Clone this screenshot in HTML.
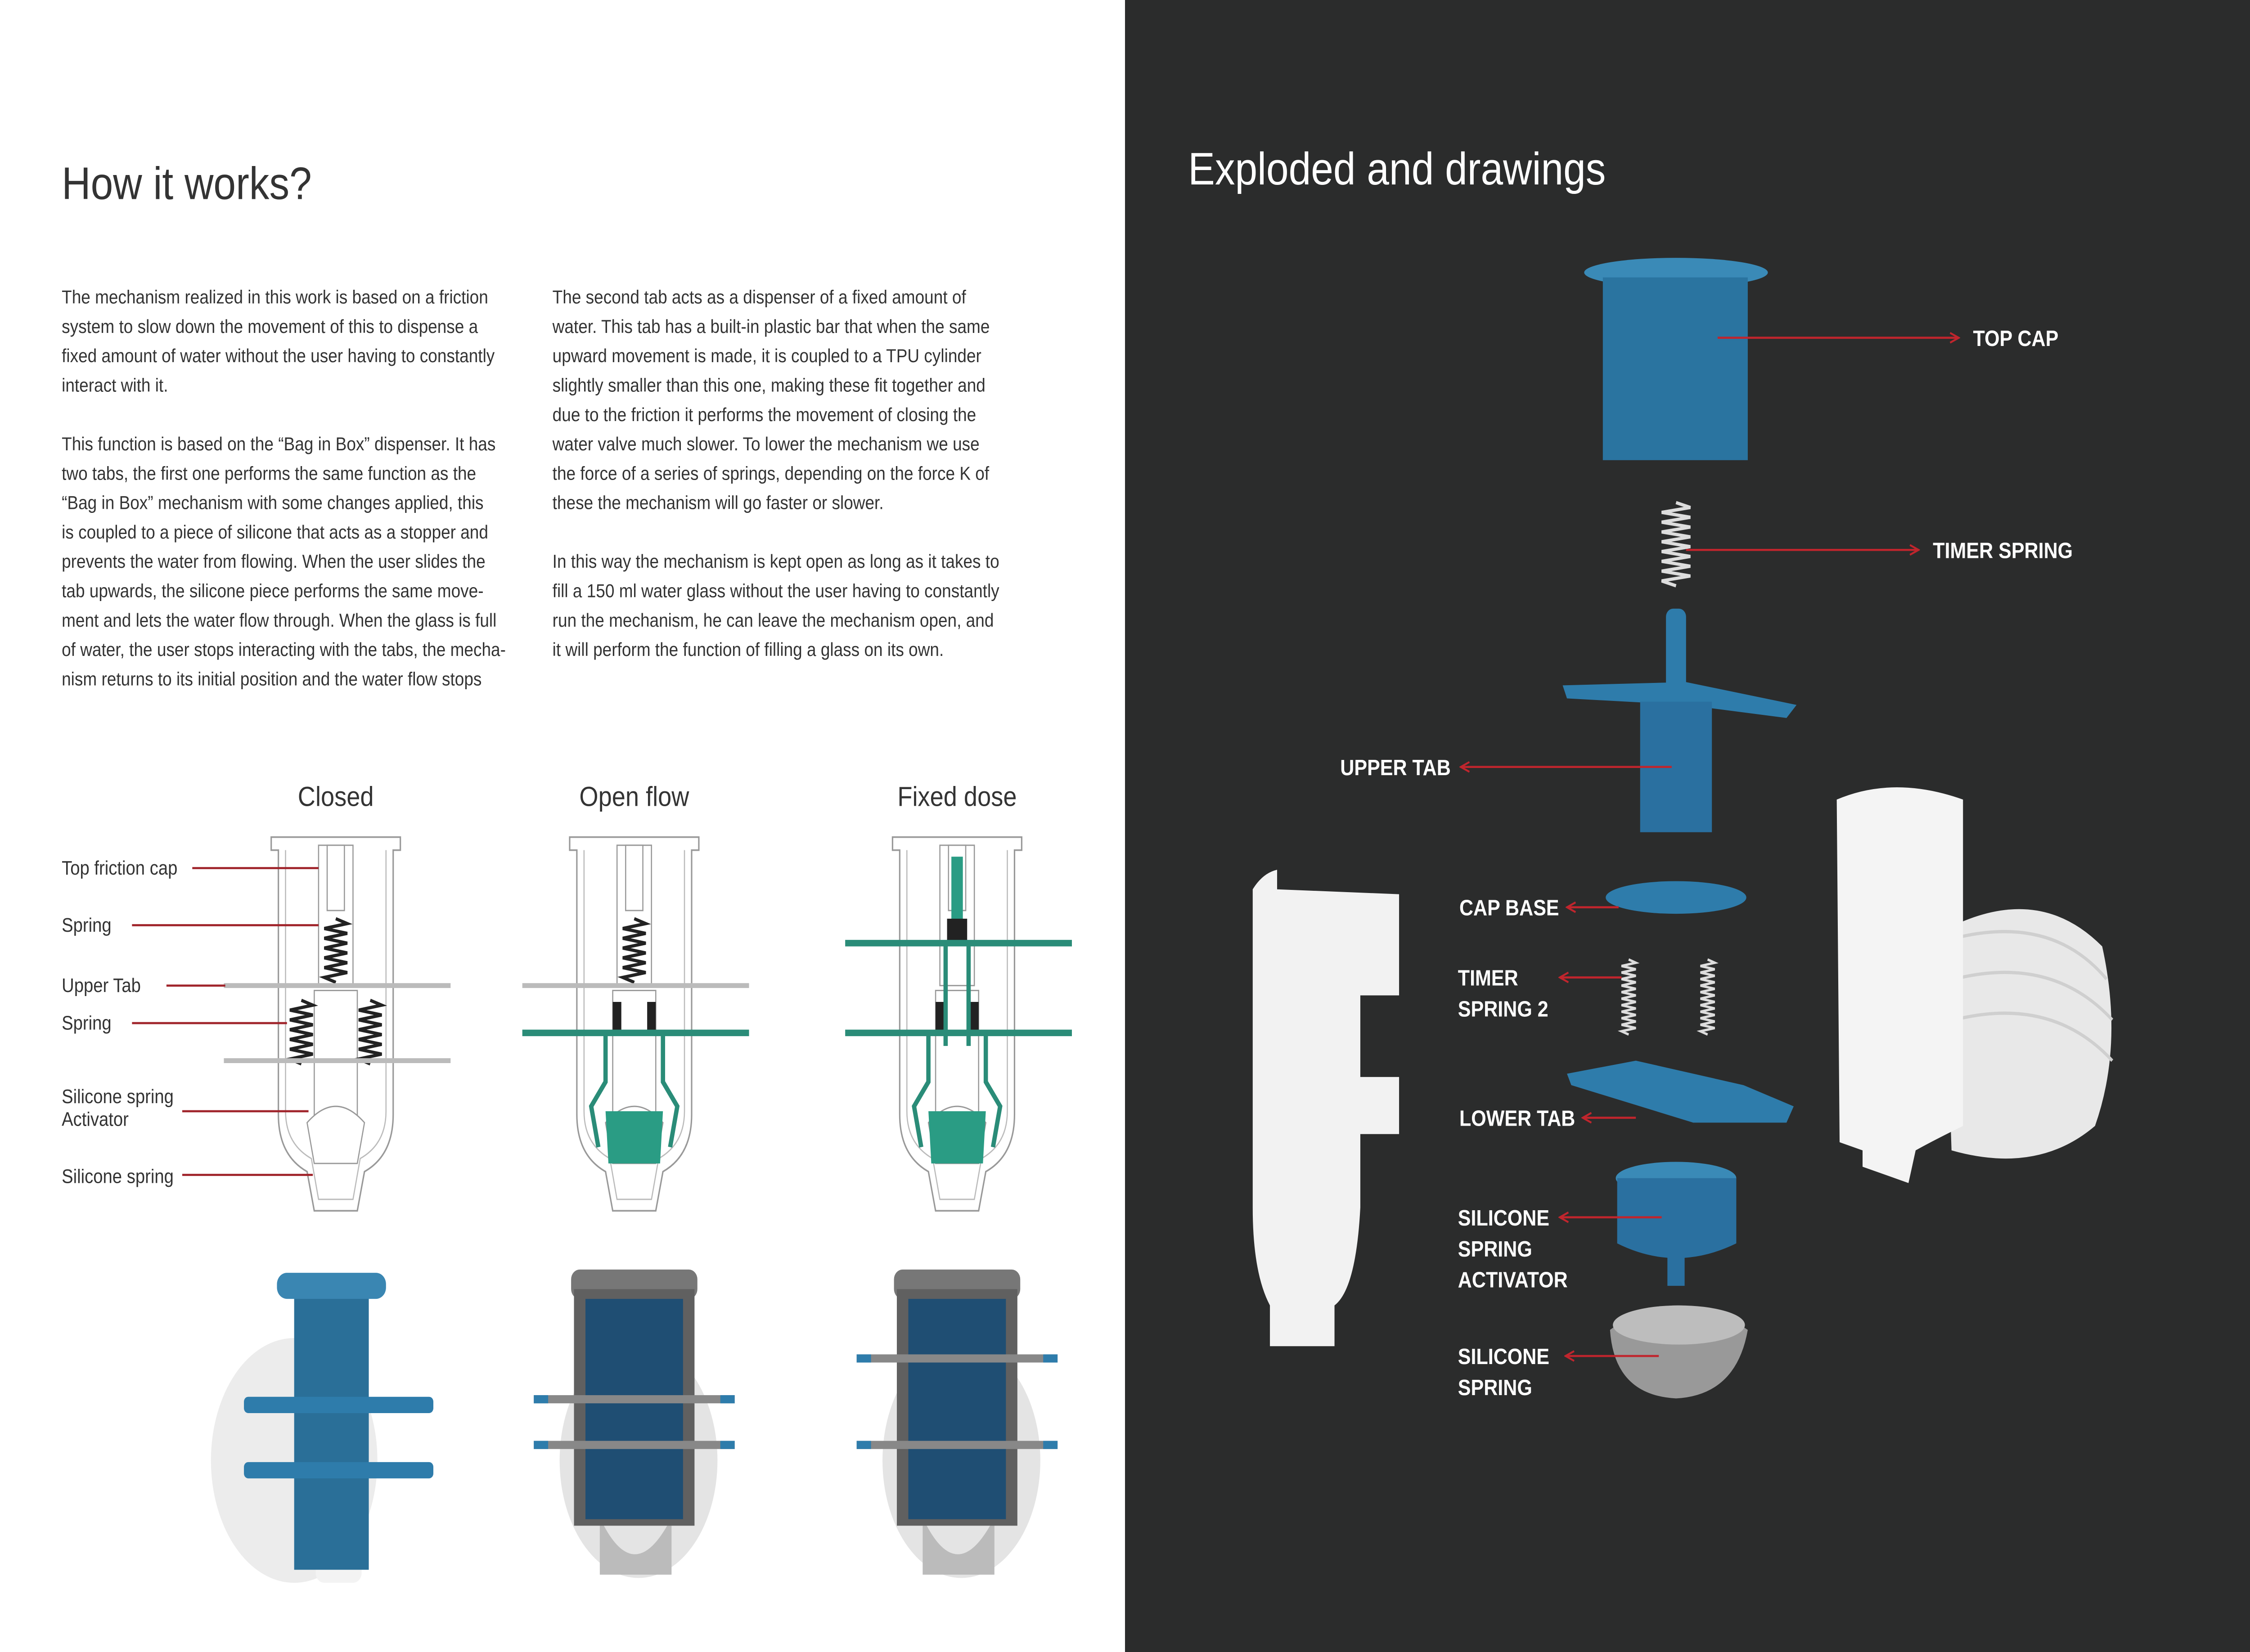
<!DOCTYPE html>
<html><head><meta charset="utf-8"><style>
html,body{margin:0;padding:0;background:#2b2c2c;width:100%;height:100%;overflow:hidden}
svg{display:block;position:fixed;left:0;top:0;width:100vw;height:100vh}
.t{font-family:"Liberation Sans",sans-serif}
</style></head><body>
<svg viewBox="0 0 1568 1012.4" preserveAspectRatio="none" xmlns="http://www.w3.org/2000/svg">
<defs>
<marker id="ar" markerWidth="8" markerHeight="8" refX="7" refY="4" orient="auto" markerUnits="userSpaceOnUse"><path d="M1,1 L7,4 L1,7" fill="none" stroke="#c0252d" stroke-width="1.2"/></marker>
<g id="sch">
  <path d="M-45,18 L-45,10 L45,10 L45,18 L40,18 L40,180 Q40,205 20,215 L15,239 L-15,239 L-20,215 Q-40,205 -40,180 L-40,18 Z" fill="#fff" stroke="#999" stroke-width="1"/>
  <path d="M-35,18 L-35,178 Q-35,198 -17,207 L-12,232 L12,232 L17,207 Q35,198 35,178 L35,18" fill="none" stroke="#bbb" stroke-width="0.8"/>
  <rect x="-12" y="15" width="24" height="86" fill="#fff" stroke="#999" stroke-width="0.8"/>
  <rect x="-6" y="15" width="12" height="40" fill="#fff" stroke="#999" stroke-width="0.8"/>
  <rect x="-15" y="104" width="30" height="80" fill="#fff" stroke="#999" stroke-width="0.8"/>
  <path d="M-20,185 Q0,165 20,185 L15,210 L-15,210 Z" fill="#fff" stroke="#999" stroke-width="0.8"/>
</g>
<path id="spr" d="M0,0 l8,3 l-16,3 l16,3 l-16,3 l16,3 l-16,3 l16,3 l-16,3 l16,3 l-16,3 l16,3 l-16,3 l8,3" fill="none" stroke="#222" stroke-width="2"/>
</defs>
<rect x="0" y="0" width="784" height="1013" fill="#fff"/>
<rect x="784" y="0" width="784" height="1013" fill="#2b2c2c"/>

<text class="t" x="43" y="122" font-size="28" fill="#333">How it works?</text>
<g class="t" font-size="11.6" fill="#333">
<text x="43" y="186">The mechanism realized in this work is based on a friction</text>
<text x="43" y="204">system to slow down the movement of this to dispense a</text>
<text x="43" y="222">fixed amount of water without the user having to constantly</text>
<text x="43" y="240">interact with it.</text>
<text x="43" y="276">This function is based on the “Bag in Box” dispenser. It has</text>
<text x="43" y="294">two tabs, the first one performs the same function as the</text>
<text x="43" y="312">“Bag in Box” mechanism with some changes applied, this</text>
<text x="43" y="330">is coupled to a piece of silicone that acts as a stopper and</text>
<text x="43" y="348">prevents the water from flowing. When the user slides the</text>
<text x="43" y="366">tab upwards, the silicone piece performs the same move-</text>
<text x="43" y="384">ment and lets the water flow through. When the glass is full</text>
<text x="43" y="402">of water, the user stops interacting with the tabs, the mecha-</text>
<text x="43" y="420">nism returns to its initial position and the water flow stops</text>
<text x="385" y="186">The second tab acts as a dispenser of a fixed amount of</text>
<text x="385" y="204">water. This tab has a built-in plastic bar that when the same</text>
<text x="385" y="222">upward movement is made, it is coupled to a TPU cylinder</text>
<text x="385" y="240">slightly smaller than this one, making these fit together and</text>
<text x="385" y="258">due to the friction it performs the movement of closing the</text>
<text x="385" y="276">water valve much slower. To lower the mechanism we use</text>
<text x="385" y="294">the force of a series of springs, depending on the force K of</text>
<text x="385" y="312">these the mechanism will go faster or slower.</text>
<text x="385" y="348">In this way the mechanism is kept open as long as it takes to</text>
<text x="385" y="366">fill a 150 ml water glass without the user having to constantly</text>
<text x="385" y="384">run the mechanism, he can leave the mechanism open, and</text>
<text x="385" y="402">it will perform the function of filling a glass on its own.</text>
</g>

<g class="t" font-size="17" fill="#333" text-anchor="middle">
<text x="234" y="494">Closed</text><text x="442" y="494">Open flow</text><text x="667" y="494">Fixed dose</text>
</g>
<g transform="translate(234,503)"><use href="#sch"/><use href="#spr" x="0" y="60"/><use href="#spr" x="-24" y="110"/><use href="#spr" x="24" y="110"/>
 <line x1="-78" y1="101" x2="80" y2="101" stroke="#bbb" stroke-width="3"/>
 <line x1="-78" y1="147" x2="80" y2="147" stroke="#bbb" stroke-width="3"/></g>
<g transform="translate(442,503)"><use href="#sch"/><use href="#spr" x="0" y="60"/>
 <line x1="-78" y1="101" x2="80" y2="101" stroke="#bbb" stroke-width="3"/>
 <rect x="-15" y="111" width="6" height="18" fill="#222"/><rect x="9" y="111" width="6" height="18" fill="#222"/>
 <line x1="-78" y1="130" x2="80" y2="130" stroke="#2a8c78" stroke-width="4"/>
 <path d="M-20,130 L-20,160 L-30,175 L-25,200 M20,130 L20,160 L30,175 L25,200" fill="none" stroke="#2a8c78" stroke-width="3"/>
 <path d="M-20,178 L20,178 L18,210 L-18,210 Z" fill="#2a9c84"/></g>
<g transform="translate(667,503)"><use href="#sch"/>
 <rect x="-4" y="22" width="8" height="40" fill="#2a9c84"/>
 <rect x="-7" y="60" width="14" height="14" fill="#222"/>
 <line x1="-78" y1="75" x2="80" y2="75" stroke="#2a8c78" stroke-width="4"/>
 <rect x="-15" y="111" width="6" height="18" fill="#222"/><rect x="9" y="111" width="6" height="18" fill="#222"/>
 <line x1="-78" y1="130" x2="80" y2="130" stroke="#2a8c78" stroke-width="4"/>
 <path d="M-8,75 L-8,138 M8,75 L8,138 M-20,130 L-20,160 L-30,175 L-25,200 M20,130 L20,160 L30,175 L25,200" fill="none" stroke="#2a8c78" stroke-width="3"/>
 <path d="M-20,178 L20,178 L18,210 L-18,210 Z" fill="#2a9c84"/></g>

<g class="t" font-size="12" fill="#333">
<text x="43" y="536">Top friction cap</text><text x="43" y="571">Spring</text><text x="43" y="608">Upper Tab</text><text x="43" y="631">Spring</text>
<text x="43" y="676">Silicone spring</text><text x="43" y="690">Activator</text><text x="43" y="725">Silicone spring</text>
</g>
<g stroke="#a0242b" stroke-width="1.3">
<line x1="134" y1="532" x2="222" y2="532"/><line x1="92" y1="567" x2="222" y2="567"/><line x1="116" y1="604" x2="157" y2="604"/>
<line x1="92" y1="627" x2="200" y2="627"/><line x1="127" y1="681" x2="215" y2="681"/><line x1="127" y1="720" x2="218" y2="720"/>
</g>

<!-- bottom renders -->
<g>
 <ellipse cx="205" cy="895" rx="58" ry="75" fill="#ececec"/>
 <rect x="220" y="945" width="32" height="25" rx="6" fill="#f3f3f3"/>
 <rect x="205" y="792" width="52" height="170" fill="#2a6f98"/>
 <rect x="193" y="780" width="76" height="16" rx="7" fill="#3a86b2"/>
 <rect x="170" y="856" width="132" height="10" rx="3" fill="#2e7cab"/><rect x="170" y="896" width="132" height="10" rx="3" fill="#2e7cab"/>
 <ellipse cx="445" cy="895" rx="55" ry="72" fill="#e4e4e4"/>
 <path d="M418,930 Q442,975 468,930 L468,965 L418,965 Z" fill="#bbb"/>
 <rect x="398" y="778" width="88" height="18" rx="6" fill="#777"/>
 <rect x="400" y="790" width="84" height="145" fill="#606060"/><rect x="408" y="796" width="68" height="135" fill="#1f4e73"/>
 <rect x="372" y="855" width="140" height="5" fill="#888"/><rect x="372" y="883" width="140" height="5" fill="#888"/>
 <rect x="372" y="855" width="10" height="5" fill="#2e7cab"/><rect x="502" y="855" width="10" height="5" fill="#2e7cab"/>
 <rect x="372" y="883" width="10" height="5" fill="#2e7cab"/><rect x="502" y="883" width="10" height="5" fill="#2e7cab"/>
 <ellipse cx="670" cy="895" rx="55" ry="72" fill="#e4e4e4"/>
 <path d="M643,930 Q667,975 693,930 L693,965 L643,965 Z" fill="#bbb"/>
 <rect x="623" y="778" width="88" height="18" rx="6" fill="#777"/>
 <rect x="625" y="790" width="84" height="145" fill="#606060"/><rect x="633" y="796" width="68" height="135" fill="#1f4e73"/>
 <rect x="597" y="830" width="140" height="5" fill="#888"/><rect x="597" y="883" width="140" height="5" fill="#888"/>
 <rect x="597" y="830" width="10" height="5" fill="#2e7cab"/><rect x="727" y="830" width="10" height="5" fill="#2e7cab"/>
 <rect x="597" y="883" width="10" height="5" fill="#2e7cab"/><rect x="727" y="883" width="10" height="5" fill="#2e7cab"/>
</g>

<text class="t" x="828" y="113" font-size="28" fill="#fff">Exploded and drawings</text>
<path d="M873,545 Q880,535 890,533 L890,545 L975,548 L975,610 L948,610 L948,660 L975,660 L975,695 L948,695 L948,740 Q945,790 930,800 L930,825 L885,825 L885,800 Q873,780 873,740 Z" fill="#f2f2f2"/>
<path d="M1355,570 Q1420,540 1465,580 Q1480,640 1460,690 Q1420,720 1360,705 Z" fill="#e8e8e8"/>
<path d="M1362,575 Q1430,560 1468,600 M1362,600 Q1430,585 1472,625 M1362,625 Q1430,610 1472,650" fill="none" stroke="#cfcfcf" stroke-width="2"/>
<path d="M1280,490 Q1320,475 1368,490 L1368,690 Q1345,700 1335,705 L1330,725 L1298,715 L1298,705 L1282,700 Z" fill="#f4f4f4"/>
<ellipse cx="1168" cy="167" rx="64" ry="9" fill="#3a8ab7"/>
<rect x="1117" y="170" width="101" height="112" fill="#2a74a0"/>
<path d="M1168,308 l10,3 l-20,3 l20,3 l-20,3 l20,3 l-20,3 l20,3 l-20,3 l20,3 l-20,3 l20,3 l-20,3 l20,3 l-20,3 l20,3 l-20,3 l10,3" fill="none" stroke="#ddd" stroke-width="2"/>
<rect x="1161" y="373" width="14" height="50" rx="5" fill="#2e7cab"/>
<path d="M1089,420 L1175,418 L1252,432 L1245,440 L1175,432 L1092,428 Z" fill="#2e7cab"/>
<rect x="1143" y="430" width="50" height="80" fill="#2a70a0"/>
<ellipse cx="1168" cy="550" rx="49" ry="10" fill="#2e7cab"/>
<path d="M1135,588 l5,2 l-10,2 l10,2 l-10,2 l10,2 l-10,2 l10,2 l-10,2 l10,2 l-10,2 l10,2 l-10,2 l10,2 l-10,2 l10,2 l-10,2 l10,2 l-10,2 l10,2 l-10,2 l10,2 l-10,2 l5,2" fill="none" stroke="#ddd" stroke-width="1.5"/>
<path d="M1190,588 l5,2 l-10,2 l10,2 l-10,2 l10,2 l-10,2 l10,2 l-10,2 l10,2 l-10,2 l10,2 l-10,2 l10,2 l-10,2 l10,2 l-10,2 l10,2 l-10,2 l10,2 l-10,2 l10,2 l-10,2 l5,2" fill="none" stroke="#ddd" stroke-width="1.5"/>
<path d="M1092,658 L1140,650 L1215,665 L1250,678 L1245,688 L1180,688 L1095,665 Z" fill="#2e7cab"/>
<ellipse cx="1168" cy="722" rx="42" ry="10" fill="#3a8ab7"/>
<path d="M1127,722 L1127,762 Q1168,780 1210,762 L1210,722 Z" fill="#2a70a0"/>
<rect x="1162" y="770" width="12" height="18" fill="#2a70a0"/>
<path d="M1122,815 Q1168,785 1218,815 Q1210,855 1168,857 Q1125,855 1122,815 Z" fill="#999"/>
<ellipse cx="1170" cy="812" rx="46" ry="12" fill="#bdbdbd"/>

<g class="t" font-size="13.5" font-weight="bold" fill="#fff">
<text x="1375" y="212">TOP CAP</text><text x="1347" y="342">TIMER SPRING</text><text x="934" y="475">UPPER TAB</text>
<text x="1017" y="561">CAP BASE</text><text x="1016" y="604">TIMER</text><text x="1016" y="623">SPRING 2</text>
<text x="1017" y="690">LOWER TAB</text><text x="1016" y="751">SILICONE</text><text x="1016" y="770">SPRING</text><text x="1016" y="789">ACTIVATOR</text>
<text x="1016" y="836">SILICONE</text><text x="1016" y="855">SPRING</text>
</g>
<g stroke="#c0252d" stroke-width="1.3" fill="none">
<line x1="1197" y1="207" x2="1365" y2="207" marker-end="url(#ar)"/>
<line x1="1175" y1="337" x2="1337" y2="337" marker-end="url(#ar)"/>
<line x1="1165" y1="470" x2="1018" y2="470" marker-end="url(#ar)"/>
<line x1="1128" y1="556" x2="1092" y2="556" marker-end="url(#ar)"/>
<line x1="1130" y1="599" x2="1087" y2="599" marker-end="url(#ar)"/>
<line x1="1140" y1="685" x2="1103" y2="685" marker-end="url(#ar)"/>
<line x1="1158" y1="746" x2="1087" y2="746" marker-end="url(#ar)"/>
<line x1="1156" y1="831" x2="1091" y2="831" marker-end="url(#ar)"/>
</g>
</svg>
</body></html>
